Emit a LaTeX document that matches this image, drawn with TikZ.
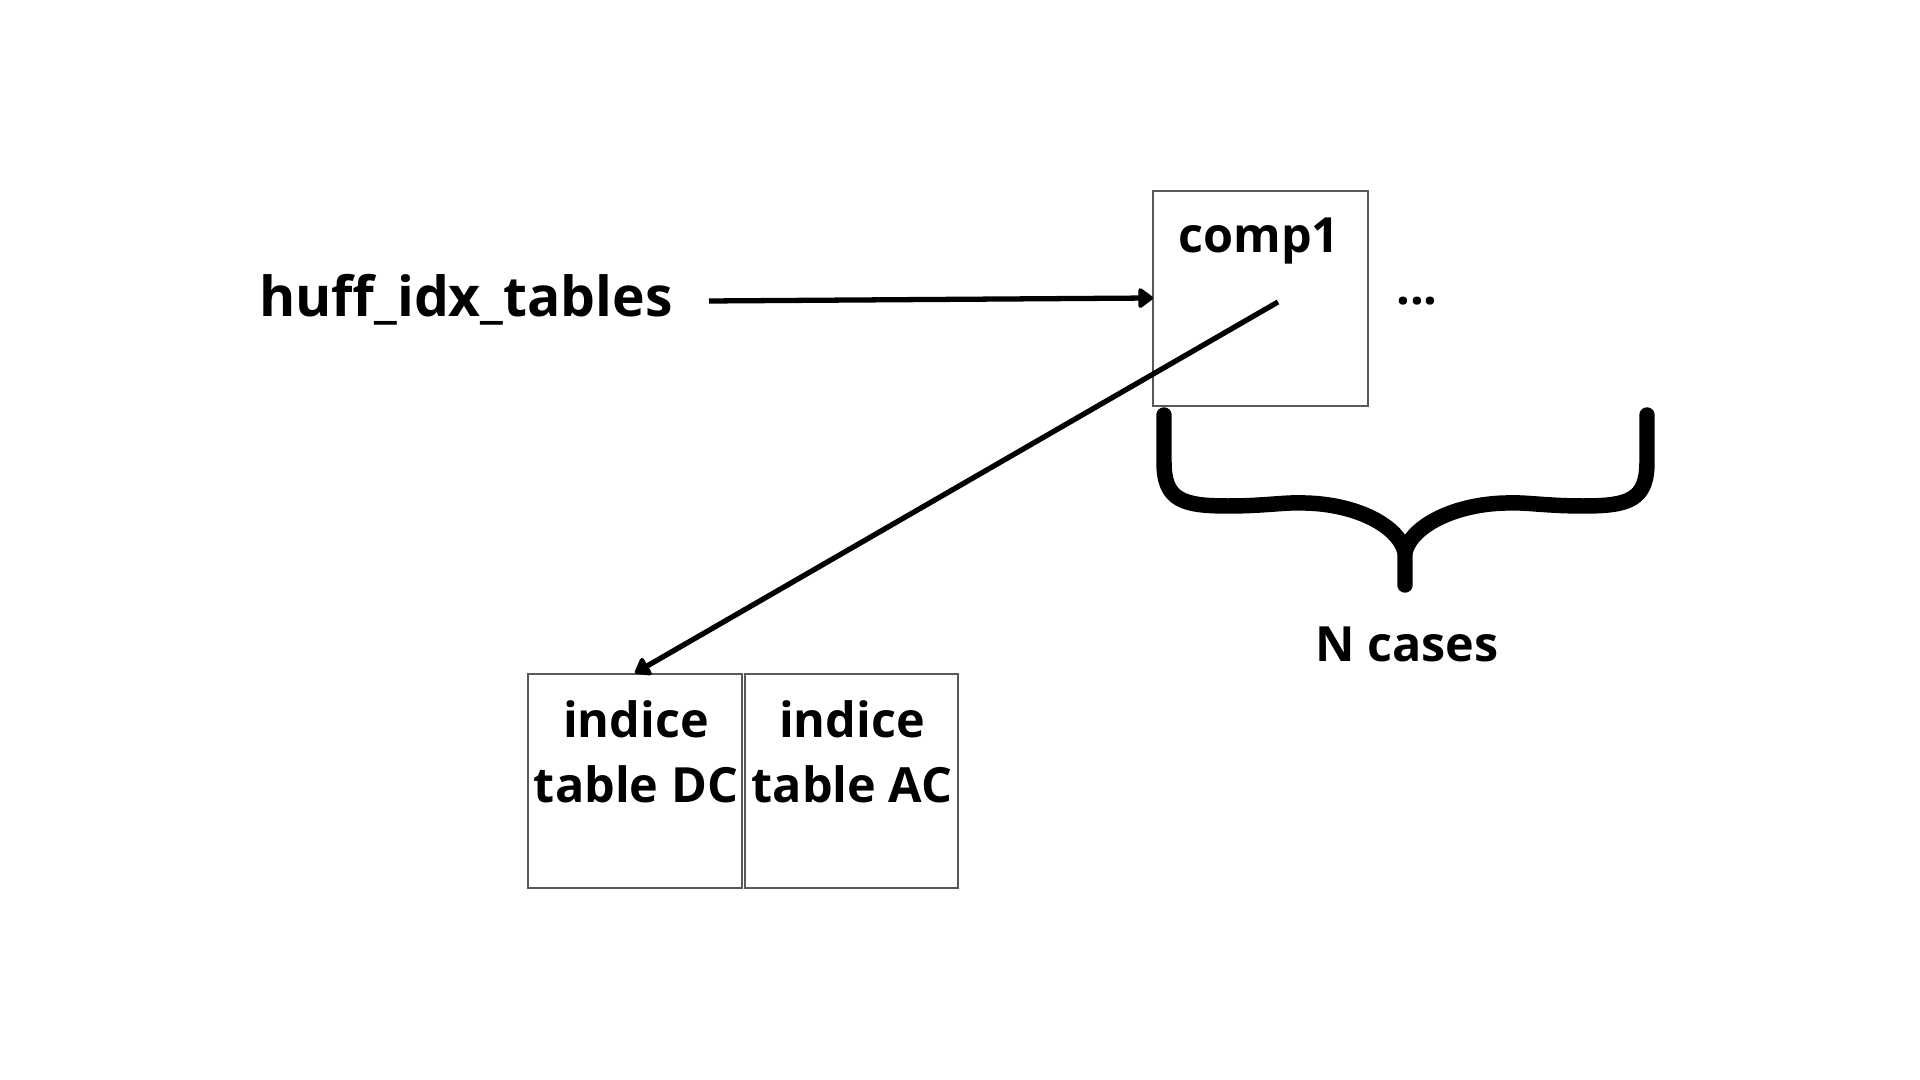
\documentclass[tikz,border=0pt]{standalone}
\usepackage{fontspec}
\setmainfont{Open Sans}
\usetikzlibrary{arrows.meta}
\begin{document}
\begin{tikzpicture}[x=0.01cm,y=-0.01cm,
  every node/.style={inner sep=0pt,outer sep=0pt},
  lbl/.style={font=\fontsize{13.8pt}{16pt}\selectfont\bfseries,anchor=base,align=center},
  cell/.style={draw=black!65,line width=0.4pt},
  conn/.style={line width=1.5pt,-{Triangle[length=4.6pt,width=6.4pt,round]}},
  brace/.style={line width=4.4pt,line cap=round,line join=round}]
\useasboundingbox (0,0) rectangle (1920,1080);
% boxes
\node (c1box) [cell,minimum width=215*0.01cm,minimum height=215*0.01cm,anchor=north west] at (1153,191) {};
\node (dcbox) [cell,minimum width=214*0.01cm,minimum height=214*0.01cm,anchor=north west] at (528,674) {};
\node (acbox) [cell,minimum width=213*0.01cm,minimum height=214*0.01cm,anchor=north west] at (745,674) {};
% texts
\node[lbl] (comp) at (1259,253) {comp1};
\node[lbl,font=\fontsize{15.7pt}{18pt}\selectfont\bfseries] (huff) at (466,317) {huff\_idx\_tables};
\node[lbl] (dc1) at (636,738) {indice};
\node[lbl] (dc2) at (636,803) {table DC};
\node[lbl] (ac1) at (852,738) {indice};
\node[lbl] (ac2) at (852,803) {table AC};
\node[lbl] (dots) at (1417,305) {...};
\node[lbl] (ncases) at (1407,662) {N cases};
% connectors
\coordinate (hs) at (709,301);
\coordinate (ls) at (1278,302);
\coordinate (lt) at (635,673);
\draw[conn] (hs) -- (c1box.west |- 0,298);
\draw[conn] (ls) -- (lt);
% brace
\coordinate (bl) at (1164,415);
\coordinate (br) at (1647,415);
\coordinate (bc) at (1405,552);
\coordinate (bt) at (1405,585);
\draw[brace] (bl) -- (1164,462) .. controls (1164,500) and (1182,506) .. (1228,506)
  .. controls (1265,506) and (1285,502) .. (1305,503)
  .. controls (1355,504) and (1398,525) .. (bc) -- (bt);
\draw[brace] (br) -- (1647,462) .. controls (1647,500) and (1629,506) .. (1583,506)
  .. controls (1546,506) and (1526,502) .. (1506,503)
  .. controls (1456,504) and (1412,525) .. (bc);
\end{tikzpicture}
\end{document}
